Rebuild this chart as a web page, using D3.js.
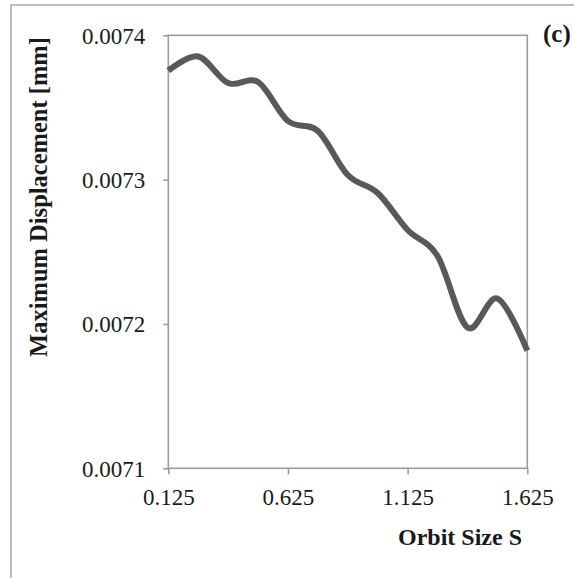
<!DOCTYPE html>
<html lang="en">
<head>
  <meta charset="UTF-8">
  <title>Maximum Displacement vs Orbit Size</title>
  <style>
    body { margin: 0; background: #fff; }
    svg { display: block; }
  </style>
</head>
<body>
  <svg id="svg" width="574" height="578" font-family="'Liberation Serif', 'Times New Roman', serif"></svg>

  <script src="https://d3js.org/d3.v7.min.js"></script>
  <script>
    // orbit size S (every 0.125) and the max displacement
    var orbitSize = [0.125, 0.25, 0.375, 0.5, 0.625, 0.75, 0.875, 1.0, 1.125, 1.25, 1.375, 1.5, 1.625];
    var maxDisp = [0.0073755, 0.0073853, 0.0073669, 0.0073676, 0.0073406, 0.0073337, 0.0073032,
      0.0072907, 0.0072651, 0.0072471, 0.0071975, 0.0072176, 0.0071816];
    var xTicks = [0.125, 0.625, 1.125, 1.625];
    var yTicks = [0.0071, 0.0072, 0.0073, 0.0074];

    var svg = d3.select("svg"),
      plotLeft = 168.3, plotRight = 527.3, plotTop = 35.3, plotBottom = 468.3,
      axisColor = "#9c9c9c";

    // outer frame
    svg.append("rect")
      .attr("x", 11).attr("y", 5)
      .attr("width", 700).attr("height", 700)
      .attr("fill", "none")
      .attr("stroke", "#a8a8a8")
      .attr("stroke-width", 1.5);

    var x = d3.scaleLinear().domain([0.125, 1.625]).range([plotLeft, plotRight]);
    var y = d3.scaleLinear().domain([0.0071, 0.0074]).range([plotBottom, plotTop]);

    // plot box
    svg.append("rect")
      .attr("x", plotLeft).attr("y", plotTop)
      .attr("width", plotRight - plotLeft).attr("height", plotBottom - plotTop)
      .attr("fill", "none")
      .attr("stroke", axisColor)
      .attr("stroke-width", 1.6);

    var yAxis = svg.append("g")
      .attr("transform", "translate(" + plotLeft + ",0)")
      .call(d3.axisLeft(y).tickValues(yTicks).tickFormat(d3.format(".4f"))
        .tickSize(5).tickSizeOuter(0).tickPadding(18));

    var xAxis = svg.append("g")
      .attr("transform", "translate(0," + plotBottom + ")")
      .call(d3.axisBottom(x).tickValues(xTicks).tickFormat(d3.format(".3f"))
        .tickSize(6).tickSizeOuter(0).tickPadding(14));

    [yAxis, xAxis].forEach(function (a) {
      a.select(".domain").remove();
      a.selectAll("line").attr("stroke", axisColor).attr("stroke-width", 1.6);
      a.selectAll("text")
        .attr("font-family", "'Liberation Serif', serif")
        .attr("font-size", 23)
        .attr("fill", "#1a1a1a");
    });
    yAxis.selectAll("text").attr("dy", "0.34em");

    // smoothed data line
    var line = d3.line()
      .x(function (d, i) { return x(orbitSize[i]); })
      .y(function (d) { return y(d); })
      .curve(d3.curveCatmullRom.alpha(0));

    svg.append("path")
      .datum(maxDisp)
      .attr("d", line)
      .attr("fill", "none")
      .attr("stroke", "#595959")
      .attr("stroke-width", 6)
      .attr("stroke-linejoin", "round");

    // axis titles
    svg.append("text")
      .attr("x", 460).attr("y", 545)
      .attr("text-anchor", "middle")
      .attr("font-size", 24)
      .attr("font-weight", "bold")
      .attr("fill", "#1a1a1a")
      .text("Orbit Size S");

    svg.append("text")
      .attr("transform", "translate(47,197)rotate(-90)")
      .attr("text-anchor", "middle")
      .attr("font-size", 24.5)
      .attr("font-weight", "bold")
      .attr("fill", "#1a1a1a")
      .text("Maximum Displacement [mm]");

    svg.append("text")
      .attr("x", 543).attr("y", 42)
      .attr("font-size", 25)
      .attr("font-weight", "bold")
      .attr("fill", "#1a1a1a")
      .text("(c)");
  </script>
</body>
</html>
